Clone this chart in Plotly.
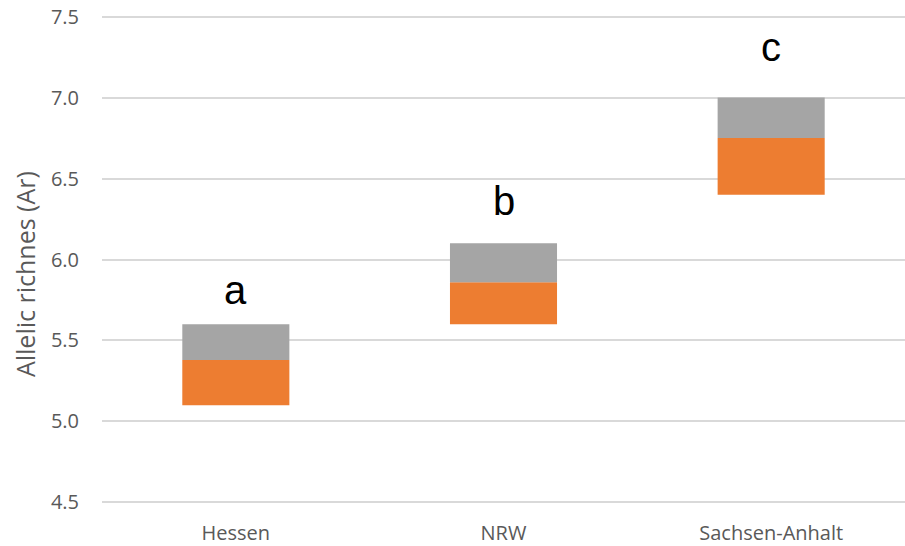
import plotly.graph_objects as go

categories = ["Hessen", "NRW", "Sachsen-Anhalt"]
base_values = [5.10, 5.60, 6.40]
orange_heights = [0.28, 0.26, 0.35]
gray_heights = [0.22, 0.24, 0.25]
letters = ["a", "b", "c"]
letter_y = [5.81, 6.36, 7.31]
y_ticks = [4.5, 5.0, 5.5, 6.0, 6.5, 7.0, 7.5]
y_tick_labels = ["4.5", "5.0", "5.5", "6.0", "6.5", "7.0", "7.5"]
y_title = "Allelic richnes (Ar)"

fig = go.Figure()
fig.add_trace(go.Bar(x=categories, y=orange_heights, base=base_values,
                     marker=dict(color="#ED7D31", line=dict(width=0)), width=0.4,
                     showlegend=False))
gray_base = [b + o for b, o in zip(base_values, orange_heights)]
fig.add_trace(go.Bar(x=categories, y=gray_heights, base=gray_base,
                     marker=dict(color="#A5A5A5", line=dict(width=0)), width=0.4,
                     showlegend=False))

for c, l, yv in zip(categories, letters, letter_y):
    fig.add_annotation(x=c, y=yv, text=l, showarrow=False,
                       font=dict(family="Liberation Sans, Arial", size=40, color="#000000"),
                       yanchor="middle", xanchor="center")

fig.add_annotation(xref="paper", yref="paper", x=-0.096, y=0.47, text=y_title,
                   textangle=-90, showarrow=False, xanchor="center", yanchor="middle",
                   font=dict(family="Open Sans", size=25, color="#595959"))

fig.update_layout(
    width=905, height=546,
    margin=dict(l=102, r=0, t=15, b=42),
    plot_bgcolor="white", paper_bgcolor="white",
    barmode="overlay",
    font=dict(family="Open Sans", color="#595959", size=20),
)
fig.update_yaxes(range=[4.49, 7.51], tickvals=y_ticks, ticktext=y_tick_labels,
                 showgrid=True, gridcolor="#D9D9D9", gridwidth=1.5, zeroline=False,
                 showline=False, ticks="", ticklabelstandoff=22, automargin=False,
                 tickfont=dict(size=20, color="#595959"))
fig.update_xaxes(showgrid=False, showline=False, ticks="", ticklabelstandoff=15, automargin=False,
                 tickfont=dict(size=20, color="#595959"))

fig.write_html("out.html", config={"displayModeBar": False},
               post_script="document.body.style.margin='0';")
